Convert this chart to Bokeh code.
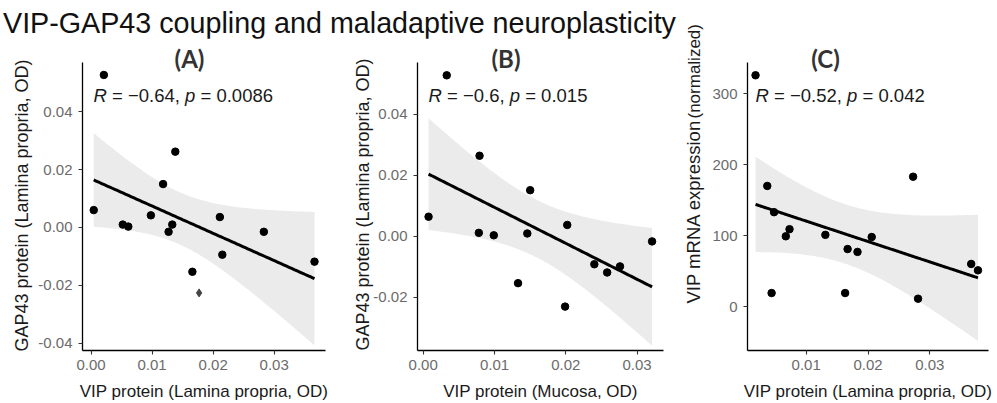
import numpy as np
from bokeh.plotting import figure
from bokeh.models import Range1d, FixedTicker, NumeralTickFormatter, Div, ColumnDataSource
from bokeh.core.properties import value
from bokeh.layouts import row, column
from bokeh.embed import file_html
from bokeh.resources import INLINE

# ---------------- data ----------------
main_title = "VIP-GAP43 coupling and maladaptive neuroplasticity"
panel_titles = ["(A)", "(B)", "(C)"]
x_titles = ["VIP protein (Lamina propria, OD)", "VIP protein (Mucosa, OD)",
            "VIP protein (Lamina propria, OD)"]
y_title_gap = "GAP43 protein (Lamina propria, OD)"
y_title_c = "VIP mRNA expression"
y_title_c_note = "(normalized)"
stat_r = ["−0.64", "−0.6", "−0.52"]
stat_p = ["0.0086", "0.015", "0.042"]

a_vip = [0.00044, 0.0021, 0.0052, 0.0061, 0.0098, 0.0118, 0.0138, 0.0127,
         0.0133, 0.0166, 0.0177, 0.0211, 0.0215, 0.0283, 0.0366]
a_gap43 = [0.0060, 0.0527, 0.0010, 0.0003, 0.0042, 0.0150, 0.0262, -0.0015,
           0.0010, -0.0153, -0.0226, 0.0036, -0.0094, -0.0015, -0.0118]
a_marker = ["circle", "circle", "circle", "circle", "circle", "circle", "circle", "circle",
            "circle", "circle", "diamond", "circle", "circle", "circle", "circle"]

b_vip = [0.00075, 0.0033, 0.0079, 0.0078, 0.0099, 0.0150, 0.0146, 0.0133,
         0.0199, 0.0202, 0.0240, 0.0258, 0.0276, 0.0321]
b_gap43 = [0.0064, 0.0528, 0.0264, 0.0011, 0.0003, 0.0151, 0.0009, -0.0154,
           -0.0231, 0.0037, -0.0092, -0.0119, -0.0099, -0.0017]

c_vip = [0.0018, 0.0037, 0.0048, 0.0044, 0.0067, 0.0073, 0.0131, 0.0163,
         0.0167, 0.0183, 0.0206, 0.0273, 0.0281, 0.0367, 0.0378]
c_mrna = [326, 170, 133, 19, 99, 109, 101, 19, 81, 77, 98, 183, 11, 60, 51]

gap_ticks = [-0.04, -0.02, 0.0, 0.02, 0.04]
vip_ticks_ab = [0.0, 0.01, 0.02, 0.03]
vip_ticks_c = [0.01, 0.02, 0.03]
mrna_ticks = [0, 100, 200, 300]

# Student t 0.975 quantiles by degrees of freedom
T_975 = {12: 2.1788, 13: 2.1604}

# ---------------- layout / style ----------------
FONT = "Liberation Sans"
TICK_COLOR = "#6b6b6b"
TEXT_COLOR = "#1a1a1a"
BAND = "#EBEBEB"
TITLE_H = 38
TITLE_W = 680
# page-coordinate frame boxes (left, top, width, height)
frames = {
    "A": (82, 62, 243, 288),
    "B": (417, 62, 246, 288),
    "C": (747, 62, 241, 288),
}
canvas_box = {  # left, top, width, height (page coordinates)
    "A": (0, TITLE_H, 350, 403 - TITLE_H),
    "B": (350, TITLE_H, 330, 403 - TITLE_H),
    "C": (680, 0, 317, 403),
}
ranges = {
    "A": ((-0.0014, 0.0384), (-0.0425, 0.057)),
    "B": ((-0.0008, 0.0337), (-0.0375, 0.057)),
    "C": ((0.0005, 0.0395), (-62, 344)),
}

# Arial / Liberation Sans advance widths (em)
WIDTH = {' ': 0.278, '=': 0.584, '−': 0.584, '-': 0.333, '.': 0.278, ',': 0.278,
         'R': 0.722, 'p': 0.556}
for d in "0123456789":
    WIDTH[d] = 0.556
MID = 0.35  # distance (em) from alphabetic baseline up to the 'middle' baseline


def text_w(s, size):
    return sum(WIDTH.get(ch, 0.556) for ch in s) * size


def to_data(key, px, py):
    fl, ft, fw, fh = frames[key]
    (x0, x1), (y0, y1) = ranges[key]
    return x0 + (px - fl) / fw * (x1 - x0), y1 - (py - ft) / fh * (y1 - y0)


def fit_band(x, y, n=120):
    x = np.asarray(x, float)
    y = np.asarray(y, float)
    b, a = np.polyfit(x, y, 1)
    xs = np.linspace(x.min(), x.max(), n)
    yhat = a + b * xs
    res = y - (a + b * x)
    s = np.sqrt((res ** 2).sum() / (len(x) - 2))
    sxx = ((x - x.mean()) ** 2).sum()
    se = s * np.sqrt(1.0 / len(x) + (xs - x.mean()) ** 2 / sxx)
    t = T_975[len(x) - 2]
    return xs, yhat, yhat - t * se, yhat + t * se


def add_text(p, key, px, py, text, size, align="left", angle=0.0, style="normal",
             font=FONT, color=TEXT_COLOR):
    """px, py: page position of the text's vertical middle."""
    x, y = to_data(key, px, py)
    p.text(x=[x], y=[y], text=[text], text_font=value(font),
           text_font_size=value(f"{size}px"), text_align=align, text_baseline="middle",
           angle=angle, text_font_style=value(style), text_color=color, level="overlay")


def add_stat(p, key, px, baseline, r, pval, size):
    segs = [("R", "italic"), (" = " + r + ", ", "normal"), ("p", "italic"), (" = " + pval, "normal")]
    x = px
    py = baseline - MID * size
    for s, st in segs:
        lead = len(s) - len(s.lstrip(" "))
        core = s.strip(" ")
        add_text(p, key, x + text_w(" " * lead, size), py, core, size, style=st)
        x += text_w(s, size)


def make_panel(key, xs, ys, xticks, yticks, xfmt, yfmt, markers=None):
    fl, ft, fw, fh = frames[key]
    cl, ct, cw, ch = canvas_box[key]
    bl = fl - cl
    br = cw - bl - fw
    bt = ft - ct
    bb = ch - bt - fh
    (x0, x1), (y0, y1) = ranges[key]
    p = figure(width=cw, height=ch, output_backend="svg",
               toolbar_location=None, x_range=Range1d(x0, x1), y_range=Range1d(y0, y1),
               min_border_left=bl, min_border_right=br, min_border_top=bt,
               min_border_bottom=bb)
    p.grid.visible = False
    p.outline_line_color = None
    p.background_fill_color = "white"
    p.border_fill_color = "white"
    for ax, ticks, fmt in ((p.xaxis, xticks, xfmt), (p.yaxis, yticks, yfmt)):
        ax.ticker = FixedTicker(ticks=ticks)
        ax.formatter = NumeralTickFormatter(format=fmt)
        ax.axis_line_color = "black"
        ax.axis_line_width = 1.3
        ax.major_tick_line_color = "#333333"
        ax.major_tick_line_width = 1.1
        ax.major_tick_out = 4
        ax.major_tick_in = 0
        ax.minor_tick_out = 0
        ax.minor_tick_in = 0
        ax.major_label_text_font = FONT
        ax.major_label_text_font_size = "15px"
        ax.major_label_text_color = TICK_COLOR
    p.yaxis.major_label_standoff = 6
    p.xaxis.major_label_standoff = 5

    bx, by, lo, hi = fit_band(xs, ys)
    p.varea(x=bx, y1=lo, y2=hi, fill_color=BAND)
    p.line(bx, by, line_color="black", line_width=3)
    if markers is None:
        markers = ["circle"] * len(xs)
    colors = ["#444444" if m == "diamond" else "black" for m in markers]
    sizes = [8 if m == "diamond" else 7.5 for m in markers]
    src = ColumnDataSource(dict(x=xs, y=ys, m=markers, c=colors, s=sizes))
    p.scatter("x", "y", source=src, marker="m", size="s", fill_color="c", line_color="c")
    return p


pA = make_panel("A", a_vip, a_gap43, vip_ticks_ab, gap_ticks, "0.00", "0.00", a_marker)
pB = make_panel("B", b_vip, b_gap43, vip_ticks_ab, gap_ticks, "0.00", "0.00")
pC = make_panel("C", c_vip, c_mrna, vip_ticks_c, mrna_ticks, "0.00", "0")

# panel titles
for p, key, cx in ((pA, "A", 189), (pB, "B", 505.5), (pC, "C", 825)):
    i = "ABC".index(key)
    add_text(p, key, cx, 58, panel_titles[i], 24, align="center",
             style="bold", font="Lato", color="#333333")

# correlation statistics (baseline at y = 101)
for p, key, sx, i in ((pA, "A", 93, 0), (pB, "B", 428, 1), (pC, "C", 755, 2)):
    add_stat(p, key, sx, 101, stat_r[i], stat_p[i], 18.5)

# x-axis titles (baseline ~397)
for p, key, i in ((pA, "A", 0), (pB, "B", 1), (pC, "C", 2)):
    fl, ft, fw, fh = frames[key]
    add_text(p, key, fl + fw / 2, 391, x_titles[i], 17, align="center")

# y-axis titles
add_text(pA, "A", 21, 205, y_title_gap, 18, align="center", angle=np.pi / 2)
add_text(pB, "B", 362, 204, y_title_gap, 18, align="center", angle=np.pi / 2)
add_text(pC, "C", 692.5, 303, y_title_c, 18.5, align="left", angle=np.pi / 2)
add_text(pC, "C", 694, 118, y_title_c_note, 17, align="left", angle=np.pi / 2)

title = Div(text=f'<div style="font-family:\'Liberation Sans\',Arial,sans-serif;font-size:28.7px;'
                 f'line-height:30px;color:#111111;white-space:nowrap;margin:0;'
                 f'padding:8px 0 0 3px;">{main_title}</div>',
            width=TITLE_W, height=TITLE_H, margin=0)

layout = row(column(title, row(pA, pB, spacing=0), spacing=0), pC, spacing=0)
open("out.html", "w").write(file_html(layout, INLINE))
